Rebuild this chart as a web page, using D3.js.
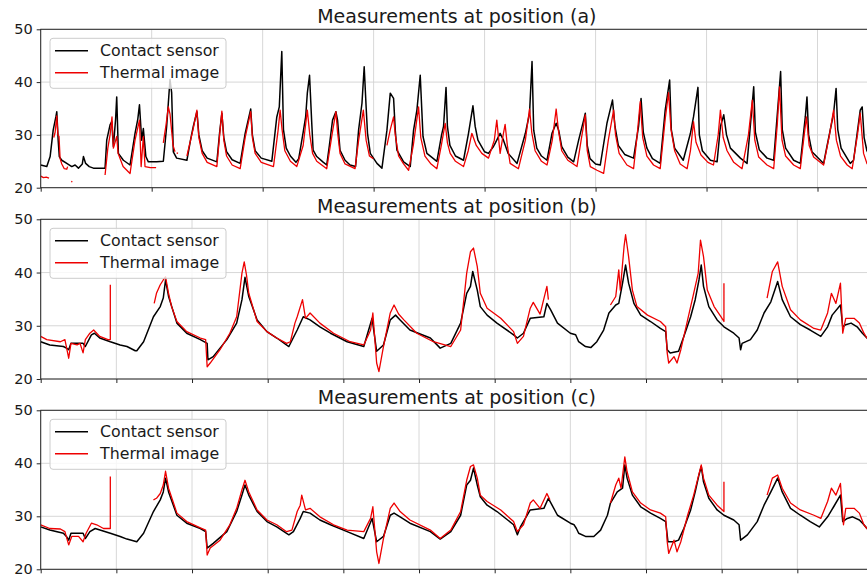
<!DOCTYPE html>
<html><head><meta charset="utf-8">
<script src="https://cdn.jsdelivr.net/npm/d3@7"></script>
<style>body{margin:0;background:#fff}svg{display:block}text{font-family:"DejaVu Sans",sans-serif;fill:#1a1a1a}</style>
</head><body><svg id="chart" width="867" height="577"></svg>
<script>
// ---------- data ----------
const panelTitles = ["Measurements at position (a)", "Measurements at position (b)", "Measurements at position (c)"];
const seriesNames = ["Contact sensor", "Thermal image"];
const yTickValues = [20, 30, 40, 50];
const xDomainsDays = [30, 11, 11];
const xTickStepDays = [4, 1, 1];

const contactA = [[0,24.3],[0.22,24.0],[0.34,25.9],[0.45,30.9],[0.55,33.5],[0.58,34.4],[0.63,29],[0.67,25.9],[0.76,25.2],[0.94,24.6],[1.12,24.0],[1.24,24.3],[1.36,23.7],[1.50,24.5],[1.54,25.9],[1.62,24.6],[1.75,24.0],[1.90,23.7],[2.32,23.7],[2.38,29.0],[2.50,31.9],[2.56,32.5],[2.62,27.8],[2.70,33],[2.74,37.2],[2.80,26.5],[2.98,25.2],[3.22,24.3],[3.40,30.3],[3.50,33],[3.56,35.7],[3.64,29.0],[3.70,31.2],[3.79,25.9],[3.88,24.9],[4.18,24.9],[4.42,25.0],[4.54,31.6],[4.60,36.0],[4.66,40.5],[4.72,38.0],[4.78,26.8],[4.90,25.6],[5.27,25.2],[5.40,29.0],[5.50,31.6],[5.63,34.4],[5.70,30.0],[5.82,27.0],[6.00,25.6],[6.35,24.9],[6.45,30.5],[6.53,34.1],[6.60,29.5],[6.70,26.8],[6.90,25.3],[7.19,24.6],[7.37,30.3],[7.57,34.9],[7.63,30.0],[7.73,27.0],[7.95,25.6],[8.33,25.0],[8.51,33.4],[8.60,35.3],[8.69,45.8],[8.75,31.0],[8.85,27.5],[9.00,26.0],[9.20,24.8],[9.30,25.5],[9.46,30.5],[9.55,33.4],[9.61,37.9],[9.69,41.3],[9.77,32.2],[9.82,27.1],[9.95,25.9],[10.17,24.9],[10.31,24.3],[10.40,27.8],[10.52,32.8],[10.64,34.4],[10.70,32.8],[10.79,27.1],[10.97,25.2],[11.15,24.3],[11.35,24.0],[11.46,31.0],[11.58,36.0],[11.66,42.9],[11.73,35.3],[11.78,30.3],[11.88,26.5],[12.12,24.6],[12.30,23.7],[12.48,30.9],[12.60,37.9],[12.72,36.9],[12.78,30.9],[12.84,27.1],[13.08,24.9],[13.32,24.0],[13.44,30.9],[13.56,34.7],[13.68,41.3],[13.78,29.7],[13.92,26.5],[14.28,25.0],[14.45,30.0],[14.52,31.6],[14.61,39.0],[14.66,31.6],[14.75,28.0],[14.95,26.0],[15.24,25.2],[15.42,30.3],[15.58,35.5],[15.66,31.6],[15.76,29.0],[16.0,26.8],[16.14,26.5],[16.32,27.8],[16.38,28.4],[16.56,30.3],[16.68,29.0],[16.85,26.5],[17.17,24.6],[17.47,30.3],[17.62,34.1],[17.71,43.9],[17.77,30.9],[17.88,27.5],[18.05,26.0],[18.25,25.2],[18.43,30.3],[18.58,32.2],[18.67,30.9],[18.78,27.8],[19.00,25.8],[19.21,24.9],[19.39,29.0],[19.58,33.0],[19.63,34.1],[19.70,28.0],[19.80,25.5],[20.00,24.5],[20.17,24.3],[20.41,32.2],[20.61,36.6],[20.70,31.6],[20.82,28.0],[21.05,26.3],[21.37,25.6],[21.55,31.6],[21.64,36.9],[21.72,30.5],[21.85,27.5],[22.05,25.5],[22.33,24.6],[22.51,34.7],[22.67,40.4],[22.73,31.0],[22.85,27.5],[23.16,25.2],[23.42,30.3],[23.53,33.4],[23.69,39.0],[23.74,30.0],[23.85,27.0],[24.14,25.2],[24.38,24.9],[24.50,31.6],[24.62,33.8],[24.72,30.0],[24.86,27.5],[25.22,25.6],[25.46,24.6],[25.65,36.0],[25.70,39.1],[25.76,30.5],[25.90,27.2],[26.18,25.6],[26.42,25.2],[26.60,37.2],[26.67,42.0],[26.73,31.0],[26.85,27.5],[27.14,25.2],[27.38,24.6],[27.56,33.4],[27.62,37.2],[27.68,30.0],[27.80,26.8],[28.22,24.6],[28.34,27.8],[28.58,34.1],[28.67,38.8],[28.73,31.0],[28.85,27.5],[29.18,24.6],[29.30,25.2],[29.54,34.7],[29.61,35.3],[29.68,29.5],[29.78,27.0],[30.0,25.0]];

const thermalA = [[0.0,22.2],[0.1,21.9],[0.2,22.0],[0.3,21.8],null,
[0.47,29.5],[0.52,30.5],[0.58,33.6],[0.62,30.0],[0.66,29.7],[0.70,25.5],[0.76,24.5],[0.85,23.6],[0.94,23.5],[0.97,24.0],null,
[1.10,21.2],[1.14,21.1],null,
[2.32,22.4],[2.42,27.5],[2.50,30.0],[2.57,33.4],[2.62,27.5],[2.74,29.7],[2.79,26.5],[2.97,24.0],[3.22,22.7],[3.40,29.0],[3.56,32.8],[3.62,24.0],[3.70,29.7],[3.76,24.0],[3.95,23.8],[4.16,23.8],null,
[4.42,28.5],[4.52,32.0],[4.60,35.3],[4.66,34.0],[4.77,28.0],[4.84,26.8],null,
[4.90,26.6],[4.95,26.5],null,
[5.27,26.0],[5.49,31.0],[5.63,34.7],[5.70,29.5],[5.82,26.5],[6.00,24.8],[6.35,24.0],[6.45,30.0],[6.53,34.5],[6.60,29.0],[6.70,26.0],[6.90,24.3],[7.19,23.6],[7.37,29.5],[7.57,34.4],[7.63,29.5],[7.73,26.5],[7.95,24.8],[8.39,24.0],[8.56,31.0],[8.63,34.7],[8.70,31.0],[8.80,27.0],[9.00,25.0],[9.23,24.0],[9.46,28.0],[9.61,34.7],[9.70,30.0],[9.80,26.5],[9.95,25.0],[10.31,23.6],[10.50,30.0],[10.64,34.4],[10.70,30.5],[10.79,26.5],[10.97,24.5],[11.33,23.6],[11.46,29.0],[11.63,34.7],[11.73,29.0],[11.85,26.0],[11.99,25.5],null,
[12.48,28.0],[12.60,31.0],[12.72,33.4],[12.78,30.0],[12.90,26.0],[13.08,24.5],[13.26,23.3],[13.43,28.0],[13.62,35.3],[13.70,29.5],[13.85,26.0],[14.05,24.6],[14.28,23.6],[14.44,28.0],[14.58,32.2],[14.66,28.5],[14.76,26.5],[14.95,25.0],[15.24,24.0],[15.41,27.0],[15.54,30.3],[15.70,28.0],[15.90,26.5],[16.14,25.6],[16.35,29.0],[16.44,32.8],[16.53,28.0],[16.56,26.5],[16.67,30.0],[16.74,32.0],[16.82,28.0],[16.92,24.6],[17.22,23.6],[17.47,29.0],[17.62,34.9],[17.70,30.5],[17.82,27.0],[18.05,25.0],[18.25,24.3],[18.44,29.0],[18.58,34.9],[18.66,30.9],[18.78,27.0],[19.00,25.2],[19.33,24.0],[19.48,29.0],[19.63,33.8],[19.70,27.0],[19.81,24.0],[20.05,23.3],[20.29,22.7],[20.46,29.0],[20.65,34.7],[20.72,30.0],[20.85,26.5],[21.13,24.3],[21.37,23.6],[21.50,30.0],[21.61,36.3],[21.70,29.5],[21.85,26.0],[22.09,24.3],[22.33,23.6],[22.51,33.0],[22.63,38.0],[22.72,31.0],[22.85,27.0],[23.05,24.5],[23.30,23.6],[23.42,27.0],[23.53,32.5],[23.62,28.6],[23.80,26.2],[24.05,24.8],[24.25,24.3],[24.42,30.0],[24.50,34.7],[24.60,29.5],[24.74,27.0],[24.98,24.8],[25.28,23.6],[25.51,30.0],[25.65,36.6],[25.74,29.0],[25.88,25.8],[26.18,24.3],[26.42,23.6],[26.55,32.0],[26.63,39.1],[26.72,29.0],[26.85,26.0],[27.14,24.3],[27.38,23.6],[27.52,30.0],[27.60,33.4],[27.70,28.0],[27.86,25.8],[28.22,24.3],[28.43,30.0],[28.58,34.7],[28.68,29.0],[28.83,26.0],[29.07,24.3],[29.25,23.6],[29.44,30.0],[29.54,34.1],[29.66,26.5],[29.78,24.6],[29.9,24.0]];

const contactB = [[0,27.0],[0.12,26.4],[0.30,26.1],[0.34,25.8],[0.37,25.5],[0.40,26.7],[0.56,26.7],[0.59,26.1],[0.67,28.3],[0.71,28.6],[0.78,27.7],[0.92,27.0],[1.05,26.4],[1.14,26.1],[1.25,25.3],[1.27,25.3],[1.36,27.0],[1.49,31.7],[1.58,33.6],[1.62,35.2],[1.65,38.6],[1.69,35.5],[1.80,30.5],[1.93,28.6],[2.11,27.4],[2.20,26.7],[2.21,23.6],[2.28,24.2],[2.46,27.4],[2.59,30.5],[2.66,34.9],[2.70,39.1],[2.75,35.5],[2.86,31.1],[2.99,28.9],[3.12,27.7],[3.28,26.1],[3.39,29.2],[3.47,31.7],[3.56,31.1],[3.69,29.8],[3.83,28.6],[4.05,27.0],[4.27,26.1],[4.38,31.4],[4.44,25.2],[4.53,26.4],[4.62,31.1],[4.69,32.0],[4.75,31.1],[4.88,29.2],[5.15,27.7],[5.28,25.8],[5.42,26.7],[5.55,30.5],[5.63,36.1],[5.68,37.4],[5.71,40.2],[5.77,36.7],[5.81,33.6],[5.90,32.0],[6.03,30.5],[6.25,28.3],[6.30,27.7],[6.38,28.6],[6.47,31.4],[6.65,31.7],[6.69,34.2],[6.74,33.0],[6.83,30.5],[7.00,28.6],[7.07,28.3],[7.11,27.0],[7.20,26.1],[7.27,25.9],[7.35,27.0],[7.44,29.2],[7.51,32.4],[7.60,33.9],[7.64,34.2],[7.69,38.0],[7.73,41.4],[7.77,38.0],[7.84,34.2],[7.93,32.0],[8.06,30.8],[8.19,29.5],[8.26,28.9],[8.28,25.5],[8.32,24.9],[8.43,25.2],[8.50,28.0],[8.59,31.7],[8.65,34.9],[8.70,38.6],[8.73,41.4],[8.76,37.4],[8.83,33.6],[8.94,31.1],[9.03,29.8],[9.16,28.6],[9.23,27.7],[9.25,25.5],[9.27,26.7],[9.38,27.4],[9.47,29.2],[9.56,32.4],[9.65,34.5],[9.74,38.3],[9.80,34.9],[9.91,31.7],[10.04,30.2],[10.17,29.2],[10.31,28.0],[10.40,29.8],[10.46,32.0],[10.57,33.9],[10.60,29.8],[10.64,30.2],[10.71,30.5],[10.79,29.8],[10.86,28.6],[10.92,27.7],[11.0,27.2]];

const thermalB = [[0,28.0],[0.08,27.4],[0.26,27.0],[0.32,27.4],[0.37,23.9],[0.40,26.7],[0.48,26.4],[0.52,26.7],[0.56,24.9],[0.59,27.4],[0.65,28.6],[0.70,29.2],[0.74,28.6],[0.78,28.0],[0.89,27.4],[0.92,27.4],[0.92,37.7],null,
[1.50,34.2],[1.53,36.1],[1.58,37.7],[1.62,38.6],[1.65,39.2],[1.69,36.1],[1.73,33.6],[1.80,30.8],[1.93,28.9],[2.11,27.7],[2.18,27.4],[2.20,22.3],[2.24,23.0],[2.37,25.5],[2.50,28.6],[2.59,31.7],[2.66,39.9],[2.69,42.0],[2.72,39.5],[2.75,36.1],[2.86,30.8],[2.99,28.9],[3.12,27.7],[3.25,26.7],[3.30,27.0],[3.36,30.5],[3.39,31.7],[3.46,34.9],[3.50,31.4],[3.56,32.4],[3.69,30.5],[3.87,28.6],[4.09,27.0],[4.27,26.4],[4.36,29.2],[4.39,32.4],[4.44,23.0],[4.47,21.4],[4.53,26.1],[4.62,32.4],[4.67,33.9],[4.73,32.2],[4.80,31.1],[4.97,28.6],[5.19,27.0],[5.42,26.1],[5.55,29.2],[5.63,39.9],[5.68,43.9],[5.72,44.6],[5.77,41.1],[5.81,36.1],[5.90,33.3],[6.08,31.4],[6.25,28.9],[6.30,26.7],[6.38,28.0],[6.47,33.3],[6.51,34.4],[6.60,32.2],[6.69,37.4],[6.71,34.9],null,
[7.53,33.9],[7.60,35.5],[7.64,40.5],[7.66,36.7],[7.71,44.9],[7.73,47.1],[7.77,43.0],[7.82,36.7],[7.88,33.6],[8.02,32.0],[8.19,30.8],[8.26,29.8],[8.28,24.9],[8.30,23.0],[8.37,24.2],[8.41,23.0],[8.46,25.5],[8.55,31.1],[8.63,36.1],[8.69,39.9],[8.72,46.1],[8.76,43.0],[8.81,36.7],[8.90,33.6],[8.99,31.7],[9.03,30.8],[9.03,38.0],null,
[9.60,35.2],[9.67,40.2],[9.74,42.0],[9.80,37.4],[9.91,33.0],[10.04,31.1],[10.22,29.5],[10.31,29.2],[10.40,32.4],[10.45,36.1],[10.51,34.2],[10.57,38.0],[10.60,28.6],[10.64,31.4],[10.75,31.4],[10.82,30.5],[10.88,28.6],[10.92,27.7],[11.0,27.2]];

const contactC = [[0,28.0],[0.12,27.4],[0.30,26.8],[0.34,26.2],[0.37,25.5],[0.40,26.8],[0.56,26.8],[0.59,25.8],[0.65,27.1],[0.72,27.7],[0.92,26.8],[1.05,26.2],[1.14,25.7],[1.27,25.2],[1.36,26.8],[1.49,30.9],[1.58,33.1],[1.62,34.6],[1.65,37.2],[1.69,34.6],[1.80,30.2],[1.93,28.7],[2.11,27.7],[2.18,27.1],[2.20,24.0],[2.28,24.9],[2.46,27.1],[2.59,30.9],[2.66,34.0],[2.70,35.9],[2.75,34.0],[2.86,30.9],[2.99,29.0],[3.12,28.0],[3.28,26.5],[3.34,27.1],[3.43,29.6],[3.47,30.9],[3.56,30.6],[3.69,29.3],[3.83,28.4],[4.05,27.1],[4.27,25.8],[4.38,29.6],[4.44,25.2],[4.53,26.2],[4.62,30.2],[4.67,30.6],[4.75,29.9],[4.88,28.7],[5.15,27.1],[5.28,25.7],[5.42,27.1],[5.55,30.2],[5.63,35.9],[5.68,36.8],[5.72,39.1],[5.77,35.9],[5.81,33.7],[5.90,32.1],[6.03,30.9],[6.25,28.4],[6.30,26.5],[6.34,28.0],[6.47,31.2],[6.65,31.5],[6.71,33.4],[6.83,30.2],[7.00,28.7],[7.05,28.4],[7.08,27.7],[7.11,26.8],[7.20,26.2],[7.31,26.2],[7.40,27.4],[7.49,30.2],[7.53,32.5],[7.62,34.6],[7.69,35.3],[7.72,39.7],[7.75,37.2],[7.82,34.0],[7.93,31.8],[8.06,30.6],[8.19,29.6],[8.26,29.0],[8.29,25.2],[8.37,25.2],[8.43,25.5],[8.50,27.7],[8.59,31.2],[8.65,34.6],[8.70,37.8],[8.73,39.4],[8.76,36.5],[8.83,33.4],[8.94,31.2],[9.03,30.2],[9.16,29.3],[9.23,28.4],[9.25,25.5],[9.34,26.5],[9.47,29.0],[9.56,32.1],[9.65,34.6],[9.74,37.2],[9.80,34.6],[9.91,31.5],[10.04,30.2],[10.17,29.0],[10.29,28.0],[10.40,29.9],[10.48,31.8],[10.57,34.0],[10.60,29.0],[10.66,29.6],[10.73,29.9],[10.82,29.3],[10.88,28.4],[10.92,27.7],[11.0,27.3]];

const thermalC = [[0,28.4],[0.12,27.7],[0.26,27.6],[0.32,27.1],[0.37,24.6],[0.41,26.2],[0.50,26.2],[0.56,25.2],[0.60,26.8],[0.67,28.7],[0.74,28.4],[0.83,27.7],[0.92,27.7],[0.92,37.5],null,
[1.49,33.1],[1.53,33.4],[1.58,34.3],[1.62,35.9],[1.65,38.5],[1.69,35.3],[1.80,30.6],[1.93,29.0],[2.11,27.8],[2.18,27.4],[2.20,22.7],[2.24,24.0],[2.37,25.5],[2.50,28.4],[2.59,31.5],[2.66,35.0],[2.70,36.8],[2.75,34.6],[2.86,31.2],[2.99,29.3],[3.12,28.4],[3.25,27.1],[3.32,27.4],[3.39,30.9],[3.43,32.1],[3.45,34.0],[3.50,31.2],[3.56,31.5],[3.69,29.9],[3.87,28.4],[4.05,27.4],[4.27,27.1],[4.36,29.6],[4.39,31.8],[4.44,23.3],[4.47,21.1],[4.53,25.8],[4.62,31.5],[4.67,32.5],[4.75,30.9],[4.88,29.3],[5.15,27.4],[5.28,25.8],[5.42,27.4],[5.55,30.9],[5.63,36.8],[5.68,39.4],[5.72,39.7],[5.77,37.2],[5.81,34.0],[5.90,32.8],[6.08,31.2],[6.25,29.0],[6.30,27.1],[6.38,28.4],[6.47,32.5],[6.51,33.1],[6.60,31.5],[6.69,34.3],[6.73,33.1],null,
[7.53,32.5],[7.60,35.9],[7.64,37.2],[7.67,35.3],[7.72,41.2],[7.75,38.4],[7.82,34.6],[7.93,32.5],[8.06,31.2],[8.19,30.6],[8.26,29.9],[8.28,25.2],[8.30,23.0],[8.37,25.5],[8.41,23.3],[8.46,25.2],[8.55,30.2],[8.63,34.0],[8.73,39.7],[8.76,37.2],[8.83,34.0],[8.94,32.1],[9.03,30.9],[9.03,36.5],null,
[9.60,34.0],[9.67,37.2],[9.74,37.8],[9.80,35.3],[9.91,32.5],[10.04,31.2],[10.22,30.2],[10.31,29.6],[10.40,32.8],[10.45,35.3],[10.51,34.0],[10.57,36.2],[10.61,28.4],[10.64,31.5],[10.75,31.5],[10.82,30.6],[10.88,28.4],[10.92,27.7],[11.0,27.5]];

const contactSeries = [contactA, contactB, contactC];
const thermalSeries = [thermalA, thermalB, thermalC];

// ---------- layout / style ----------
const svg = d3.select("#chart");
const plotLeft = 40.7, plotRight = 873;
const plotTops = [29.3, 219.3, 410.3];
const plotBottoms = [187.7, 379.0, 569.3];
const colorContact = "#000000", colorThermal = "#ee0000";

panelTitles.forEach((title, i) => {
  const top = plotTops[i], bottom = plotBottoms[i];
  const x = d3.scaleLinear().domain([0, xDomainsDays[i]]).range([plotLeft, plotRight]);
  const y = d3.scaleLinear().domain([20, 50]).range([bottom, top]);
  const xTicks = d3.range(0, xDomainsDays[i] + 1e-9, xTickStepDays[i]);
  const g = svg.append("g");

  g.append("g").selectAll("line").data(xTicks).join("line")
    .attr("x1", d => x(d)).attr("x2", d => x(d)).attr("y1", top).attr("y2", bottom)
    .attr("stroke", "#d2d2d2").attr("stroke-width", 0.9);
  g.append("g").selectAll("line").data(yTickValues).join("line")
    .attr("x1", plotLeft).attr("x2", plotRight).attr("y1", d => y(d)).attr("y2", d => y(d))
    .attr("stroke", "#d2d2d2").attr("stroke-width", 0.9);

  const cid = "clip" + i;
  svg.append("clipPath").attr("id", cid).append("rect")
    .attr("x", plotLeft).attr("y", top).attr("width", plotRight - plotLeft).attr("height", bottom - top);

  const line = d3.line().defined(d => d !== null).x(d => x(d[0])).y(d => y(d[1]));
  const lg = g.append("g").attr("clip-path", `url(#${cid})`);
  lg.append("path").datum(contactSeries[i]).attr("d", line)
    .attr("fill", "none").attr("stroke", colorContact).attr("stroke-width", 1.5).attr("stroke-linejoin", "round");
  lg.append("path").datum(thermalSeries[i]).attr("d", line)
    .attr("fill", "none").attr("stroke", colorThermal).attr("stroke-width", 1.3).attr("stroke-linejoin", "round");

  const ya = g.append("g").attr("transform", `translate(${plotLeft},0)`)
    .call(d3.axisLeft(y).tickValues(yTickValues).tickSize(4).tickPadding(4).tickFormat(d3.format("d")));
  ya.select(".domain").remove();
  ya.selectAll("line").attr("stroke", "#262626");
  ya.selectAll("text").attr("font-size", "14.5px").attr("font-family", "DejaVu Sans").attr("fill", "#1a1a1a");
  const xa = g.append("g").attr("transform", `translate(0,${bottom})`)
    .call(d3.axisBottom(x).tickValues(xTicks).tickSize(4).tickFormat(""));
  xa.select(".domain").remove();
  xa.selectAll("line").attr("stroke", "#262626");

  g.append("rect").attr("x", plotLeft).attr("y", top).attr("width", plotRight - plotLeft).attr("height", bottom - top)
    .attr("fill", "none").attr("stroke", "#262626").attr("stroke-width", 1);

  g.append("text").attr("x", (plotLeft + plotRight) / 2).attr("y", top - 6)
    .attr("text-anchor", "middle").attr("font-size", "19px").text(title);

  const leg = g.append("g").attr("transform", `translate(50,${top + 9})`);
  leg.append("rect").attr("width", 176).attr("height", 50).attr("rx", 3)
    .attr("fill", "#fff").attr("fill-opacity", 0.8).attr("stroke", "#cccccc").attr("stroke-width", 1);
  [colorContact, colorThermal].forEach((c, k) => {
    const yy = 12.5 + 22 * k;
    leg.append("line").attr("x1", 5).attr("x2", 38).attr("y1", yy).attr("y2", yy)
      .attr("stroke", c).attr("stroke-width", 1.5);
    leg.append("text").attr("x", 50).attr("y", yy).attr("dy", "0.36em")
      .attr("font-size", "15.8px").text(seriesNames[k]);
  });
});
</script></body></html>
